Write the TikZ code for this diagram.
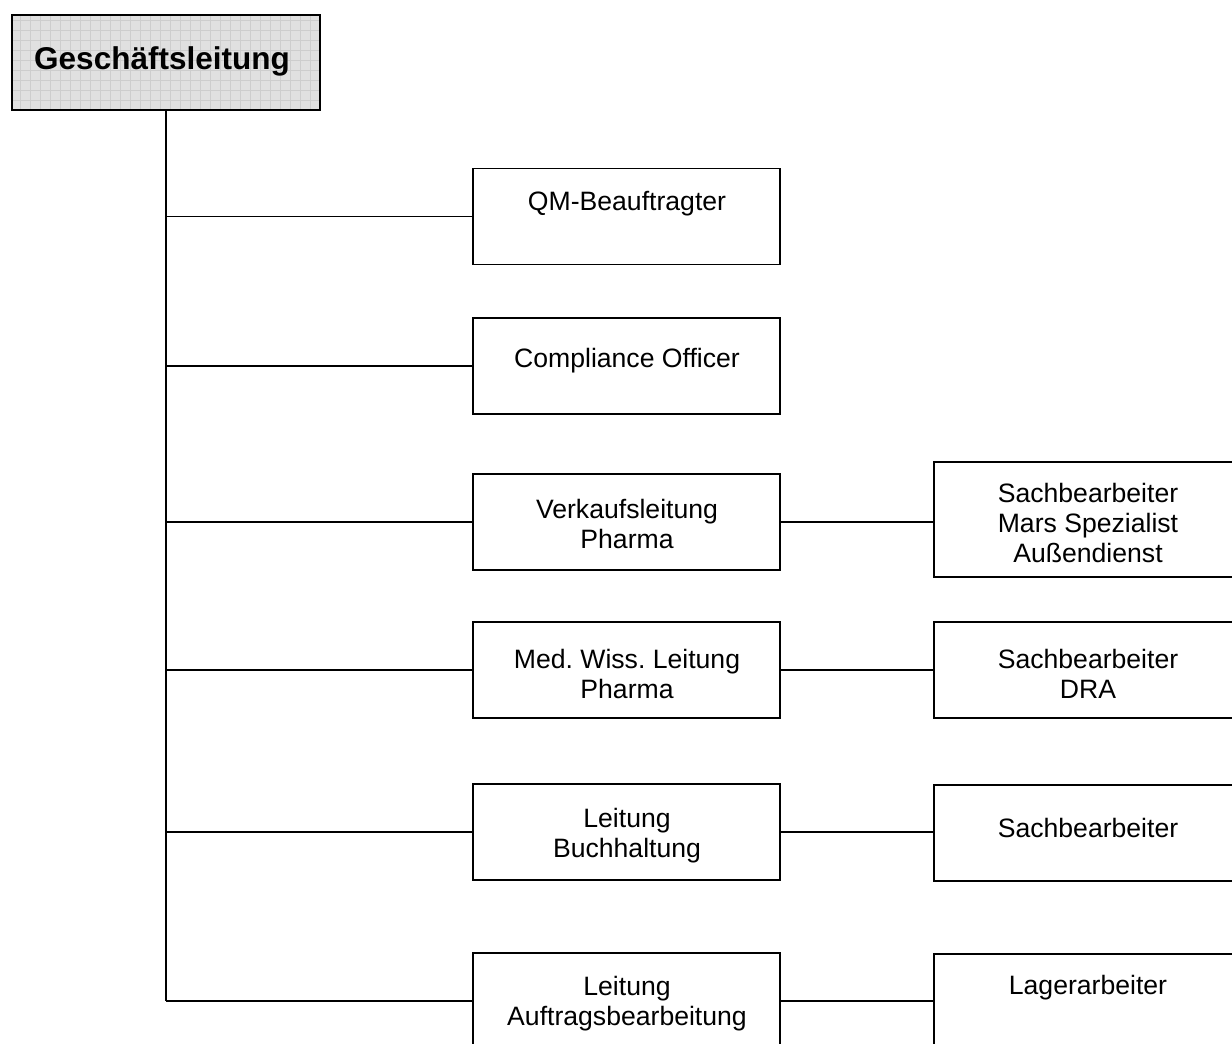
\documentclass[tikz,border=0pt]{standalone}
\usepackage{fontspec}
\setmainfont{Liberation Sans}
\frenchspacing
\definecolor{gridbg}{HTML}{E0E0E0}
\definecolor{gridln}{HTML}{CDCDCD}
\begin{document}
\begin{tikzpicture}[x=1pt,y=1pt,
  box/.style={draw=black, line width=1.4pt, minimum width=307pt, minimum height=96pt, inner sep=0pt},
  lbl/.style={align=center, inner sep=0pt, font=\fontsize{26.6}{30}\selectfont},
  conn/.style={line width=1.4pt}]
\clip (0,0) rectangle (1232,-1044);
% title box with grid fill
\begin{scope}
  \clip (12,-15) rectangle (320,-110);
  \fill[gridbg] (12,-15) rectangle (320,-110);
  \draw[gridln, line width=0.5pt, step=10] (10,-120) grid (330,-10);
\end{scope}
\node[draw=black, line width=1.6pt, minimum width=308pt, minimum height=95pt, inner sep=0pt] (top) at (166,-62.5) {};
\node[inner sep=0pt, font=\fontsize{31.5}{36}\selectfont\bfseries] (toplbl) at (162,-61) {Geschäftsleitung};
% middle column
\node[box] (b1) at (626.5,-216.5) {};
\node[box] (b2) at (626.5,-366) {};
\node[box] (b3) at (626.5,-522) {};
\node[box] (b4) at (626.5,-670) {};
\node[box] (b5) at (626.5,-832) {};
\node[box] (b6) at (626.5,-1001) {};
\node[lbl] (t1) at (627,-204) {QM-Beauftragter};
\node[lbl] (t2) at (627,-361) {Compliance Officer};
\node[lbl] (t3) at (627,-524) {Verkaufsleitung\\Pharma};
\node[lbl] (t4) at (627,-674) {Med. Wiss. Leitung\\Pharma};
\node[lbl] (t5) at (627,-836) {Leitung\\Buchhaltung};
\node[lbl] (t6) at (627,-1004) {Leitung\\Auftragsbearbeitung};
% right column
\node[box, minimum height=115pt] (c3) at (1087.5,-519.5) {};
\node[box] (c4) at (1087.5,-670) {};
\node[box] (c5) at (1087.5,-833) {};
\node[box] (c6) at (1087.5,-1002) {};
\node[lbl] (u3) at (1088,-523) {Sachbearbeiter\\Mars Spezialist\\Außendienst};
\node[lbl] (u4) at (1088,-674) {Sachbearbeiter\\DRA};
\node[lbl] (u5) at (1088,-828) {Sachbearbeiter};
\node[lbl] (u6) at (1088,-988) {Lagerarbeiter};
% connectors
\draw[conn] (top.south) -- (top.south |- b6.west);
\foreach \b in {b1,b2,b3,b4,b5,b6}
  \draw[conn] (top.south |- \b.west) -- (\b.west);
\draw[conn] (b3.east) -- (b3.east -| c3.west);
\draw[conn] (b4.east) -- (c4.west);
\draw[conn] (b5.east) -- (b5.east -| c5.west);
\draw[conn] (b6.east) -- (b6.east -| c6.west);
\end{tikzpicture}
\end{document}
